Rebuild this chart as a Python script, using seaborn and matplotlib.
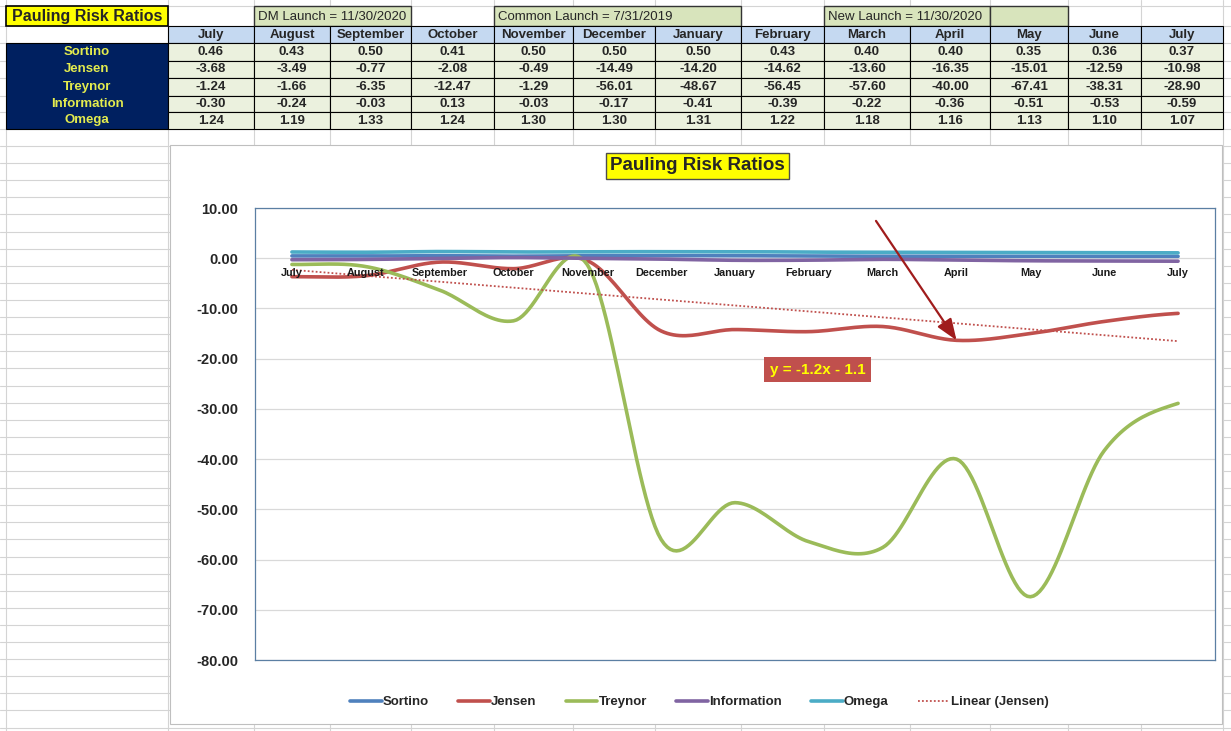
import numpy as np
import matplotlib
matplotlib.use('Agg')
import matplotlib.pyplot as plt
from matplotlib.patches import Rectangle
from matplotlib.lines import Line2D
import seaborn as sns

# data
months = ['July', 'August', 'September', 'October', 'November', 'December', 'January',
          'February', 'March', 'April', 'May', 'June', 'July']
sortino = [0.46, 0.43, 0.50, 0.41, 0.50, 0.50, 0.50, 0.43, 0.40, 0.40, 0.35, 0.36, 0.37]
jensen = [-3.68, -3.49, -0.77, -2.08, -0.49, -14.49, -14.20, -14.62, -13.60, -16.35, -15.01, -12.59, -10.98]
treynor = [-1.24, -1.66, -6.35, -12.47, -1.29, -56.01, -48.67, -56.45, -57.60, -40.00, -67.41, -38.31, -28.90]
information = [-0.30, -0.24, -0.03, 0.13, -0.03, -0.17, -0.41, -0.39, -0.22, -0.36, -0.51, -0.53, -0.59]
omega = [1.24, 1.19, 1.33, 1.24, 1.30, 1.30, 1.31, 1.22, 1.18, 1.16, 1.13, 1.10, 1.07]

series_names = ['Sortino', 'Jensen', 'Treynor', 'Information', 'Omega']
series_colors = ['#4F81BD', '#C0504D', '#9BBB59', '#8064A2', '#4BACC6']
yticks = list(range(10, -90, -10))
launch_labels = ['DM Launch = 11/30/2020', 'Common Launch = 7/31/2019', 'New Launch = 11/30/2020']
trend_label = 'y = -1.2x - 1.1'
sheet_title = 'Pauling Risk Ratios'


def smooth(vals, n=24):
    # excel style smoothed line (catmull-rom bezier between the points)
    v = np.asarray(vals, float)
    p = np.r_[v[0], v, v[-1]]
    xs, ys = [], []
    for i in range(len(v) - 1):
        p0, p1, p2, p3 = p[i], p[i + 1], p[i + 2], p[i + 3]
        c1 = p1 + (p2 - p0) / 6
        c2 = p2 - (p3 - p1) / 6
        t = np.linspace(0, 1, n, endpoint=(i == len(v) - 2))
        ys.append((1 - t) ** 3 * p1 + 3 * (1 - t) ** 2 * t * c1 + 3 * (1 - t) * t ** 2 * c2 + t ** 3 * p2)
        xs.append(i + t)
    return np.concatenate(xs), np.concatenate(ys)


sns.set_style('white')
plt.rcParams['font.family'] = ['Liberation Sans', 'DejaVu Sans']

fig = plt.figure(figsize=(12.31, 7.31), dpi=100)

# spreadsheet background, pixel coords
bg = fig.add_axes([0, 0, 1, 1])
bg.set_xlim(0, 1231)
bg.set_ylim(731, 0)
bg.axis('off')

grid_c = '#D4D4D4'
col_edges = [168, 254, 330, 411, 494, 573, 655, 741, 824, 910, 990, 1068, 1141, 1223]
row_edges = [6, 26, 43, 60.5, 78, 95.5, 112, 129]
for xe in [6] + col_edges:
    bg.plot([xe, xe], [0, 731], color=grid_c, lw=0.8, zorder=0)
hl = list(row_edges)
while hl[-1] < 731:
    hl.append(hl[-1] + 17.1)
for ye in hl:
    bg.plot([0, 1231], [ye, ye], color=grid_c, lw=0.8, zorder=0)

# title cell
bg.add_patch(Rectangle((6, 6), 162, 20, fc='#FFFF00', ec='black', lw=1.2, zorder=2))
bg.text(87, 16.5, sheet_title, ha='center', va='center', fontsize=11.5, weight='bold', zorder=3)

# launch boxes
spans = [(1, 3), (4, 7), (8, 10)]
for (a, b), lab in zip(spans, launch_labels):
    bg.add_patch(Rectangle((col_edges[a], 6), col_edges[b] - col_edges[a], 20,
                           fc='#D8E4BC', ec='#333333', lw=1, zorder=2))
    bg.text(col_edges[a] + 4, 16.5, lab, ha='left', va='center', fontsize=9.5, zorder=3)
bg.add_patch(Rectangle((col_edges[10], 6), col_edges[11] - col_edges[10], 20,
                       fc='#D8E4BC', ec='#333333', lw=1, zorder=2))

# header row
for i, m in enumerate(months):
    x0, x1 = col_edges[i], col_edges[i + 1]
    bg.add_patch(Rectangle((x0, 26), x1 - x0, 17, fc='#C5D9F1', ec='black', lw=0.8, zorder=2))
    bg.text((x0 + x1) / 2, 35, m, ha='center', va='center', fontsize=9.5, weight='bold', zorder=3)

# row labels + values
bg.add_patch(Rectangle((6, 43), 162, 86, fc='#002060', ec='black', lw=0.8, zorder=2))
table = [sortino, jensen, treynor, information, omega]
for r, (name, vals) in enumerate(zip(series_names, table)):
    y0, y1 = row_edges[r + 2], row_edges[r + 3]
    yc = (y0 + y1) / 2
    bg.text(87, yc, name, ha='center', va='center', fontsize=9.5, weight='bold',
            color='#E4EC4E', zorder=3)
    for i, v in enumerate(vals):
        x0, x1 = col_edges[i], col_edges[i + 1]
        bg.add_patch(Rectangle((x0, y0), x1 - x0, y1 - y0, fc='#EBF1DE', ec='black', lw=0.8, zorder=2))
        bg.text((x0 + x1) / 2, yc, f'{v:.2f}', ha='center', va='center', fontsize=9.5,
                weight='bold', zorder=3)

# chart area
bg.add_patch(Rectangle((170, 145), 1052, 579, fc='white', ec='#BFBFBF', lw=0.8, zorder=4))
bg.text(697, 166, sheet_title, ha='center', va='center', fontsize=13.5, weight='bold', zorder=5,
        bbox=dict(boxstyle='square,pad=0.22', fc='#FFFF00', ec='#4D4D4D', lw=1))

ax = fig.add_axes([255 / 1231, 71 / 731, 960 / 1231, 452 / 731])
ax.set_facecolor('none')

x = np.arange(len(months))
for name, vals, c in zip(series_names, table, series_colors):
    sx, sy = smooth(vals)
    sns.lineplot(x=sx, y=sy, ax=ax, color=c, lw=2.6, sort=False, estimator=None, legend=False)

# linear trend of Jensen
coef = np.polyfit(x + 1, jensen, 1)
ax.plot(x, np.polyval(coef, x + 1), color='#C0504D', lw=1.3, ls=(0, (1, 1.2)))

for i, m in enumerate(months):
    ax.text(i, -3.0, m, ha='center', va='center', fontsize=7.8, weight='bold', color='#1A1A1A')

ax.set_xlim(-0.5, len(months) - 0.5)
ax.set_ylim(-80, 10)
ax.set_xticks([])
ax.set_yticks(yticks)
ax.set_yticklabels([f'{v:.2f}' for v in yticks], fontsize=10.5, weight='bold')
ax.tick_params(axis='y', length=0, pad=12)
ax.yaxis.grid(True, color='#D9D9D9', lw=0.9)
ax.set_axisbelow(True)
for s in ax.spines.values():
    s.set_color('#5B7FA3')
    s.set_linewidth(0.9)

# arrow to the April low of Jensen
ax.annotate('', xy=(9, jensen[9]), xytext=(-58, 86), textcoords='offset points',
            arrowprops=dict(arrowstyle='-|>,head_length=1.3,head_width=0.5', color='#A01C1C',
                            lw=1.6, shrinkA=0, shrinkB=0))
ax.text(0.586, 0.642, trend_label, transform=ax.transAxes, ha='center', va='center',
        fontsize=11, weight='bold', color='#FFFF00',
        bbox=dict(boxstyle='square,pad=0.35', fc='#C0504D', ec='none'))

handles = [Line2D([], [], color=c, lw=2.6) for c in series_colors]
handles.append(Line2D([], [], color='#C0504D', lw=1.3, ls=(0, (1, 1.2))))
fig.legend(handles, series_names + ['Linear (Jensen)'], loc='center',
           bbox_to_anchor=(0.568, 1 - 702 / 731), ncol=6, frameon=False,
           prop={'weight': 'bold', 'size': 9.5}, handlelength=2.4, columnspacing=2.2,
           handletextpad=0.1)

fig.savefig('out.png', dpi=100)
